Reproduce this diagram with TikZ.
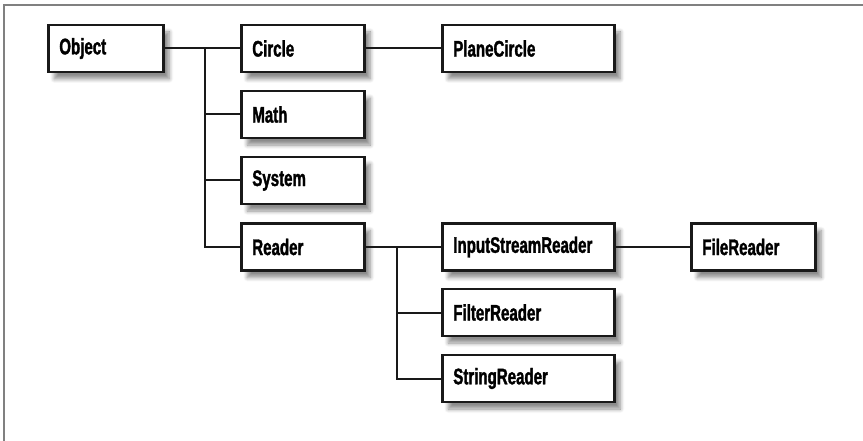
\documentclass[tikz,border=0pt]{standalone}
\usepackage{fontspec}
\setmainfont{Liberation Sans}[FakeStretch=0.67, BoldFeatures={FakeBold=1.5}]
\usetikzlibrary{shadows.blur}

\tikzset{
  classbox/.style={draw=black!90, line width=2.6pt, fill=white, anchor=west,
    minimum height=47pt, inner xsep=11pt, align=left,
    font=\fontsize{22.5}{22.5}\selectfont\bfseries,
    blur shadow={shadow xshift=6pt, shadow yshift=-7pt, shadow blur radius=4pt,
      shadow blur steps=6, shadow opacity=45}},
  link/.style={draw=black!90, line width=2pt}
}

\begin{document}
\begin{tikzpicture}[x=1pt,y=-1pt]
  \useasboundingbox (0,0) rectangle (863,441);
  % frame
  \draw[gray, line width=2pt] (4,441) -- (4,5) -- (863,5);

  % first level
  \node[classbox, text width=93pt] (object) at (47,48.5) {Object};
  \node[classbox, text width=101pt] (circle) at (240,48.5) {Circle};
  \node[classbox, text width=101pt] (math) at (240,114.5) {Math};
  \node[classbox, text width=101pt] (system) at (240,180.5) {System};
  \node[classbox, text width=101pt] (reader) at (240,247) {Reader};

  % second level
  \node[classbox, text width=150pt] (planecircle) at (441,48.5) {PlaneCircle};
  \node[classbox, text width=150pt] (isreader) at (441,247) {InputStreamReader};
  \node[classbox, text width=150pt] (filterreader) at (441,312.5) {FilterReader};
  \node[classbox, text width=150pt] (stringreader) at (441,378.5) {StringReader};
  \node[classbox, text width=102pt] (filereader) at (690,247) {FileReader};

  % connectors
  \coordinate (objfork) at (205,48.5);
  \coordinate (readfork) at (397,247);
  \draw[link] (object.east) -- (circle.west);
  \draw[link] (objfork) |- (math.west);
  \draw[link] (objfork) |- (system.west);
  \draw[link] (objfork) |- (reader.west);
  \draw[link] (circle.east) -- (planecircle.west);
  \draw[link] (reader.east) -- (isreader.west);
  \draw[link] (readfork) |- (filterreader.west);
  \draw[link] (readfork) |- (stringreader.west);
  \draw[link] (isreader.east) -- (filereader.west);
\end{tikzpicture}
\end{document}
